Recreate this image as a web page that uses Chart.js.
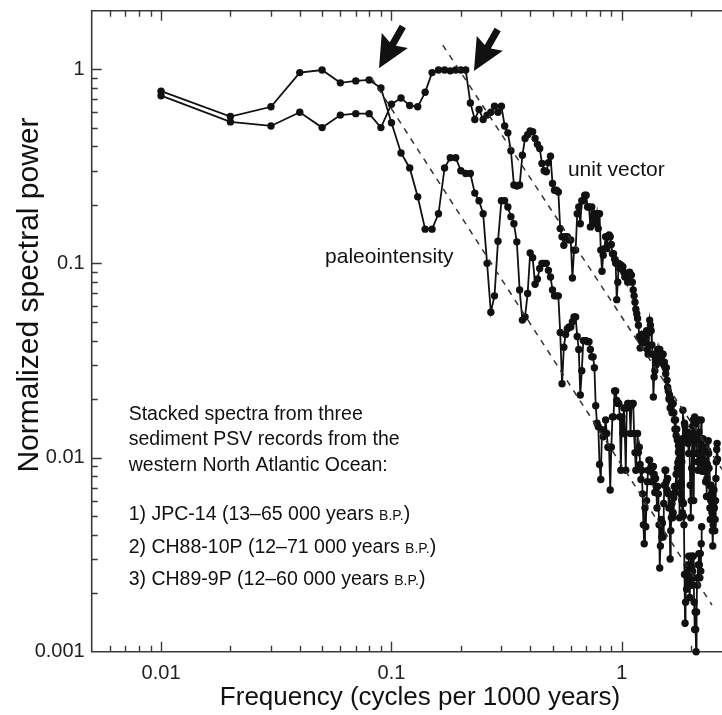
<!DOCTYPE html>
<html>
<head>
<meta charset="utf-8">
<script src="https://cdn.jsdelivr.net/npm/chart.js@4.4.1/dist/chart.umd.min.js"></script>
<style>
  html, body { margin: 0; padding: 0; background: #fff; overflow: hidden; }
  canvas { display: block; }
</style>
</head>
<body>
<canvas id="spectra" width="722" height="715"></canvas>
<script>
// both spectra are sampled every 0.01 cycles per 1000 years, starting at 0.01
var FREQ_START = 0.01;
var FREQ_STEP = 0.01;

// normalized spectral power, unit-vector (direction) spectrum, 0.01 .. 2.60
var unitVector = [
  0.73, 0.535, 0.51, 0.60, 0.50, 0.58, 0.59, 0.59, 0.50, 0.66,
  0.71, 0.65, 0.64, 0.76, 0.96, 0.99, 0.99, 0.98, 0.99, 0.99,
  0.99, 0.67, 0.55, 0.62, 0.55, 0.58, 0.60, 0.645, 0.60, 0.645,
  0.51, 0.47, 0.38, 0.253, 0.25, 0.253, 0.36, 0.44, 0.46, 0.48,
  0.476, 0.44, 0.41, 0.39, 0.327, 0.30, 0.296, 0.33, 0.356, 0.258,
  0.238, 0.238, 0.233, 0.151, 0.137, 0.124, 0.137, 0.137, 0.132, 0.132,
  0.084, 0.117, 0.117, 0.18, 0.195, 0.16, 0.21, 0.21, 0.224, 0.224,
  0.195, 0.195, 0.154, 0.195, 0.16, 0.18, 0.16, 0.18, 0.151, 0.18,
  0.117, 0.091, 0.11, 0.119, 0.137, 0.119, 0.137, 0.14, 0.137, 0.125,
  0.112, 0.112, 0.105, 0.10, 0.065, 0.08, 0.10, 0.094, 0.098, 0.096,
  0.096, 0.09, 0.085, 0.088, 0.085, 0.08, 0.087, 0.09, 0.087, 0.087,
  0.08, 0.073, 0.068, 0.063, 0.058, 0.055, 0.052, 0.048, 0.042, 0.0366,
  0.04, 0.043, 0.041, 0.043, 0.039, 0.042, 0.042, 0.045, 0.036, 0.034,
  0.044, 0.051, 0.048, 0.045, 0.038, 0.034, 0.0205, 0.026, 0.028, 0.032,
  0.03, 0.034, 0.036, 0.033, 0.036, 0.036, 0.032, 0.034, 0.031, 0.034,
  0.034, 0.03, 0.031, 0.029, 0.027, 0.029, 0.025, 0.023, 0.022, 0.02,
  0.021, 0.018, 0.02, 0.019, 0.017, 0.019, 0.019, 0.017, 0.0156, 0.014,
  0.0156, 0.013, 0.014, 0.0123, 0.0123, 0.0115, 0.0109, 0.0049, 0.0109, 0.0074,
  0.0074, 0.0095, 0.0125, 0.0175, 0.0058, 0.012, 0.015, 0.0145, 0.0133, 0.0133,
  0.0133, 0.0125, 0.0135, 0.0118, 0.0105, 0.0133, 0.0133, 0.0072, 0.0049, 0.006,
  0.0088, 0.0125, 0.0145, 0.0156, 0.006, 0.0105, 0.0162, 0.0148, 0.0135, 0.0123,
  0.0123, 0.0105, 0.0095, 0.0086, 0.0156, 0.0135, 0.0125, 0.0105, 0.0093, 0.0115,
  0.0156, 0.0093, 0.0085, 0.011, 0.0125, 0.0098, 0.0085, 0.0113, 0.0113, 0.009,
  0.0075, 0.0085, 0.0063, 0.0078, 0.0092, 0.0108, 0.0122, 0.0105, 0.0088, 0.0072,
  0.0055, 0.0048, 0.006, 0.0072, 0.0065, 0.0052, 0.0042, 0.0035, 0.0045, 0.0058,
  0.0068, 0.0055, 0.0042, 0.0048, 0.006, 0.0078, 0.0095, 0.011, 0.0118, 0.0098
];

// normalized spectral power, paleointensity spectrum, 0.01 .. 2.22
var paleointensity = [
  0.77, 0.57, 0.64, 0.96, 0.99, 0.85, 0.87, 0.88, 0.80, 0.53,
  0.37, 0.31, 0.22, 0.15, 0.15, 0.18, 0.31, 0.35, 0.35, 0.30,
  0.29, 0.29, 0.23, 0.21, 0.18, 0.10, 0.056, 0.068, 0.13, 0.21,
  0.21, 0.195, 0.174, 0.16, 0.129, 0.073, 0.051, 0.053, 0.07, 0.113,
  0.107, 0.078, 0.083, 0.094, 0.10, 0.10, 0.10, 0.092, 0.085, 0.073,
  0.068, 0.068, 0.068, 0.044, 0.024, 0.037, 0.043, 0.046, 0.047, 0.047,
  0.05, 0.053, 0.053, 0.042, 0.036, 0.021, 0.028, 0.04, 0.04, 0.04,
  0.0395, 0.0395, 0.036, 0.033, 0.033, 0.029, 0.0185, 0.015, 0.0144, 0.0092,
  0.0077, 0.0139, 0.0128, 0.0133, 0.0156, 0.0133, 0.0113, 0.0113, 0.0068, 0.0113,
  0.0162, 0.0162, 0.022, 0.022, 0.0197, 0.019, 0.019, 0.0162, 0.0086, 0.0162,
  0.0133, 0.018, 0.0133, 0.0086, 0.018, 0.019, 0.019, 0.0185, 0.0133, 0.0185,
  0.019, 0.019, 0.0133, 0.0106, 0.0086, 0.0106, 0.0133, 0.0106, 0.0113, 0.0092,
  0.0077, 0.0086, 0.0065, 0.0045, 0.0036, 0.0055, 0.0044, 0.006, 0.0075, 0.0086,
  0.0097, 0.0097, 0.0085, 0.009, 0.0075, 0.009, 0.009, 0.0082, 0.0066, 0.0078,
  0.0071, 0.0055, 0.0071, 0.0065, 0.0045, 0.0027, 0.0035, 0.0048, 0.0039, 0.0046,
  0.0039, 0.0058, 0.0072, 0.0086, 0.0086, 0.0075, 0.0068, 0.0078, 0.0065, 0.0055,
  0.0065, 0.003, 0.0042, 0.0049, 0.0058, 0.0049, 0.0052, 0.0062, 0.0071, 0.0066,
  0.0071, 0.0082, 0.0071, 0.0088, 0.0094, 0.0106, 0.0098, 0.0106, 0.0088, 0.0065,
  0.0072, 0.006, 0.0052, 0.0058, 0.005, 0.0045, 0.0025, 0.0014, 0.0018, 0.0025,
  0.0021, 0.0028, 0.0022, 0.0026, 0.0031, 0.0022, 0.0019, 0.0024, 0.0031, 0.0027,
  0.0022, 0.0031, 0.0026, 0.0031, 0.0024, 0.0018, 0.0013, 0.0016, 0.0013, 0.001,
  0.0016, 0.0024, 0.0022, 0.0028, 0.0024, 0.0032, 0.0028, 0.0024, 0.0032, 0.0026,
  0.0036, 0.0044
];

// axis ranges and labelled ticks
var X_MIN = 0.005, X_MAX = 2.72;
var Y_MIN = 0.001, Y_MAX = 2;
var xTickLabels = [0.01, 0.1, 1];
var yTickLabels = [0.001, 0.01, 0.1, 1];

// dashed power-law guides, [frequency, power] end points
var guideUpper = [[0.167, 1.33], [2.72, 0.0087]];
var guideLower = [[0.082, 0.90], [2.46, 0.00174]];

// arrows marking the spectral corners, [tail, tip]
var arrows = [
  [[0.112, 1.66], [0.0883, 1.01]],
  [[0.289, 1.60], [0.228, 0.977]]
];

// curve labels, anchored at left edge / vertical middle
var curveLabels = [
  { text: 'unit vector', f: 0.583, p: 0.302 },
  { text: 'paleointensity', f: 0.0515, p: 0.108 }
];

var noteLines = [
  ['Stacked spectra from three'],
  ['sediment PSV records from the'],
  ['western North Atlantic Ocean:'],
  ['1) JPC-14 (13\u201365 000 years ', 'B.P.', ')'],
  ['2) CH88-10P (12\u201371 000 years ', 'B.P.', ')'],
  ['3) CH89-9P (12\u201360 000 years ', 'B.P.', ')']
];

var FONT = '"Liberation Sans", Arial, Helvetica, sans-serif';

function toPoints(values) {
  return values.map(function (v, i) {
    return { x: +(FREQ_START + i * FREQ_STEP).toFixed(2), y: v };
  });
}

function pairPoints(pair) {
  return pair.map(function (p) { return { x: p[0], y: p[1] }; });
}

function decadeLabel(v) {
  var e = Math.round(Math.log10(v));
  return e >= 0 ? String(Math.pow(10, e)) : Math.pow(10, e).toFixed(-e);
}

function labelCallback(list) {
  return function (value) {
    for (var i = 0; i < list.length; i++) {
      if (Math.abs(value - list[i]) / list[i] < 1e-6) return decadeLabel(list[i]);
    }
    return '';
  };
}

// keep the plot box fixed: no extra room reserved for edge labels
function fixBox(size, prop) {
  return function (scale) {
    scale[prop] = size;
    scale.paddingLeft = 0;
    scale.paddingRight = 0;
    scale.paddingTop = 0;
    scale.paddingBottom = 0;
  };
}

function drawArrow(ctx, x0, y0, x1, y1) {
  var dx = x1 - x0, dy = y1 - y0, len = Math.hypot(dx, dy);
  var ux = dx / len, uy = dy / len, nx = -uy, ny = ux;
  var headLen = 28, headHalf = 15, shaft = 3.5;
  var bx = x1 - ux * headLen, by = y1 - uy * headLen;
  ctx.beginPath();
  ctx.moveTo(x0 + nx * shaft, y0 + ny * shaft);
  ctx.lineTo(bx + nx * shaft, by + ny * shaft);
  ctx.lineTo(bx + nx * headHalf - ux * 4, by + ny * headHalf - uy * 4);
  ctx.lineTo(x1, y1);
  ctx.lineTo(bx - nx * headHalf - ux * 4, by - ny * headHalf - uy * 4);
  ctx.lineTo(bx - nx * shaft, by - ny * shaft);
  ctx.lineTo(x0 - nx * shaft, y0 - ny * shaft);
  ctx.closePath();
  ctx.fill();
}

// axis frame with inward log ticks, drawn under the data
var framePlugin = {
  id: 'frame',
  beforeDatasetsDraw: function (chart) {
    var ctx = chart.ctx, a = chart.chartArea;
    var xs = chart.scales.x, ys = chart.scales.y;
    ctx.save();
    ctx.strokeStyle = '#3a3a3a';
    ctx.lineWidth = 1.6;
    ctx.beginPath();
    ctx.moveTo(a.right + 2, a.top);
    ctx.lineTo(a.left, a.top);
    ctx.lineTo(a.left, a.bottom);
    ctx.lineTo(a.right + 2, a.bottom);
    ctx.stroke();

    ctx.lineWidth = 1.4;
    ctx.beginPath();
    for (var e = -3; e <= 0; e++) {
      for (var m = 1; m <= 9; m++) {
        var v = m * Math.pow(10, e);
        var len = m === 1 ? 10 : 6;
        if (v > X_MIN && v < X_MAX) {
          var px = Math.round(xs.getPixelForValue(v)) + 0.5;
          ctx.moveTo(px, a.bottom);
          ctx.lineTo(px, a.bottom - len);
          ctx.moveTo(px, a.top);
          ctx.lineTo(px, a.top + len);
        }
        if (v > Y_MIN && v < Y_MAX) {
          var py = Math.round(ys.getPixelForValue(v)) + 0.5;
          ctx.moveTo(a.left, py);
          ctx.lineTo(a.left + len, py);
        }
      }
    }
    ctx.stroke();
    ctx.restore();
  },
  afterDraw: function (chart) {
    var ctx = chart.ctx, a = chart.chartArea;
    var xs = chart.scales.x, ys = chart.scales.y;
    ctx.save();
    ctx.fillStyle = '#111';

    // arrows
    arrows.forEach(function (ar) {
      drawArrow(ctx,
        xs.getPixelForValue(ar[0][0]), ys.getPixelForValue(ar[0][1]),
        xs.getPixelForValue(ar[1][0]), ys.getPixelForValue(ar[1][1]));
    });

    // curve labels
    ctx.font = '21px ' + FONT;
    ctx.textAlign = 'left';
    ctx.textBaseline = 'middle';
    curveLabels.forEach(function (l) {
      ctx.fillText(l.text, xs.getPixelForValue(l.f), ys.getPixelForValue(l.p));
    });

    // description block
    var lineY = [404, 429, 455, 504, 537, 569];
    noteLines.forEach(function (segs, i) {
      var x = a.left + 37;
      var y = a.top + lineY[i];
      segs.forEach(function (s, j) {
        ctx.font = (j === 1 ? '14px ' : '19.5px ') + FONT;
        ctx.fillText(s, x, y + (j === 1 ? 1 : 0));
        x += ctx.measureText(s).width;
      });
    });

    // axis titles
    ctx.textAlign = 'center';
    ctx.font = '26px ' + FONT;
    ctx.fillText('Frequency (cycles per 1000 years)', 420, 698);
    ctx.font = '30px ' + FONT;
    ctx.translate(30, 295);
    ctx.rotate(-Math.PI / 2);
    ctx.fillText('Normalized spectral power', 0, 0);
    ctx.restore();
  }
};

var seriesStyle = {
  showLine: true,
  borderColor: '#111',
  backgroundColor: '#111',
  borderWidth: 1.8,
  pointRadius: 3.7,
  pointBorderWidth: 0,
  pointBackgroundColor: '#111',
  clip: false
};

var guideStyle = {
  showLine: true,
  borderColor: '#333',
  borderWidth: 1.5,
  borderDash: [6, 6],
  pointRadius: 0,
  clip: false
};

new Chart(document.getElementById('spectra').getContext('2d'), {
  type: 'scatter',
  data: {
    datasets: [
      Object.assign({ label: 'guide (unit vector)', data: pairPoints(guideUpper) }, guideStyle),
      Object.assign({ label: 'guide (paleointensity)', data: pairPoints(guideLower) }, guideStyle),
      Object.assign({ label: 'paleointensity', data: toPoints(paleointensity) }, seriesStyle),
      Object.assign({ label: 'unit vector', data: toPoints(unitVector) }, seriesStyle)
    ]
  },
  options: {
    responsive: false,
    animation: false,
    layout: { autoPadding: false, padding: { top: 10.7, right: 0, left: 0, bottom: 0 } },
    plugins: {
      legend: { display: false },
      tooltip: { enabled: false }
    },
    scales: {
      x: {
        type: 'logarithmic',
        min: X_MIN,
        max: X_MAX,
        grid: { display: false, drawTicks: false },
        border: { display: false },
        afterFit: fixBox(63.3, 'height'),
        ticks: {
          autoSkip: false,
          maxRotation: 0,
          padding: 10,
          color: '#222',
          font: { family: FONT, size: 20 },
          callback: labelCallback(xTickLabels)
        }
      },
      y: {
        type: 'logarithmic',
        min: Y_MIN,
        max: Y_MAX,
        grid: { display: false, drawTicks: false },
        border: { display: false },
        afterFit: fixBox(91.7, 'width'),
        ticks: {
          autoSkip: false,
          padding: 7,
          color: '#222',
          font: { family: FONT, size: 20 },
          callback: labelCallback(yTickLabels)
        }
      }
    }
  },
  plugins: [framePlugin]
});
</script>
</body>
</html>
